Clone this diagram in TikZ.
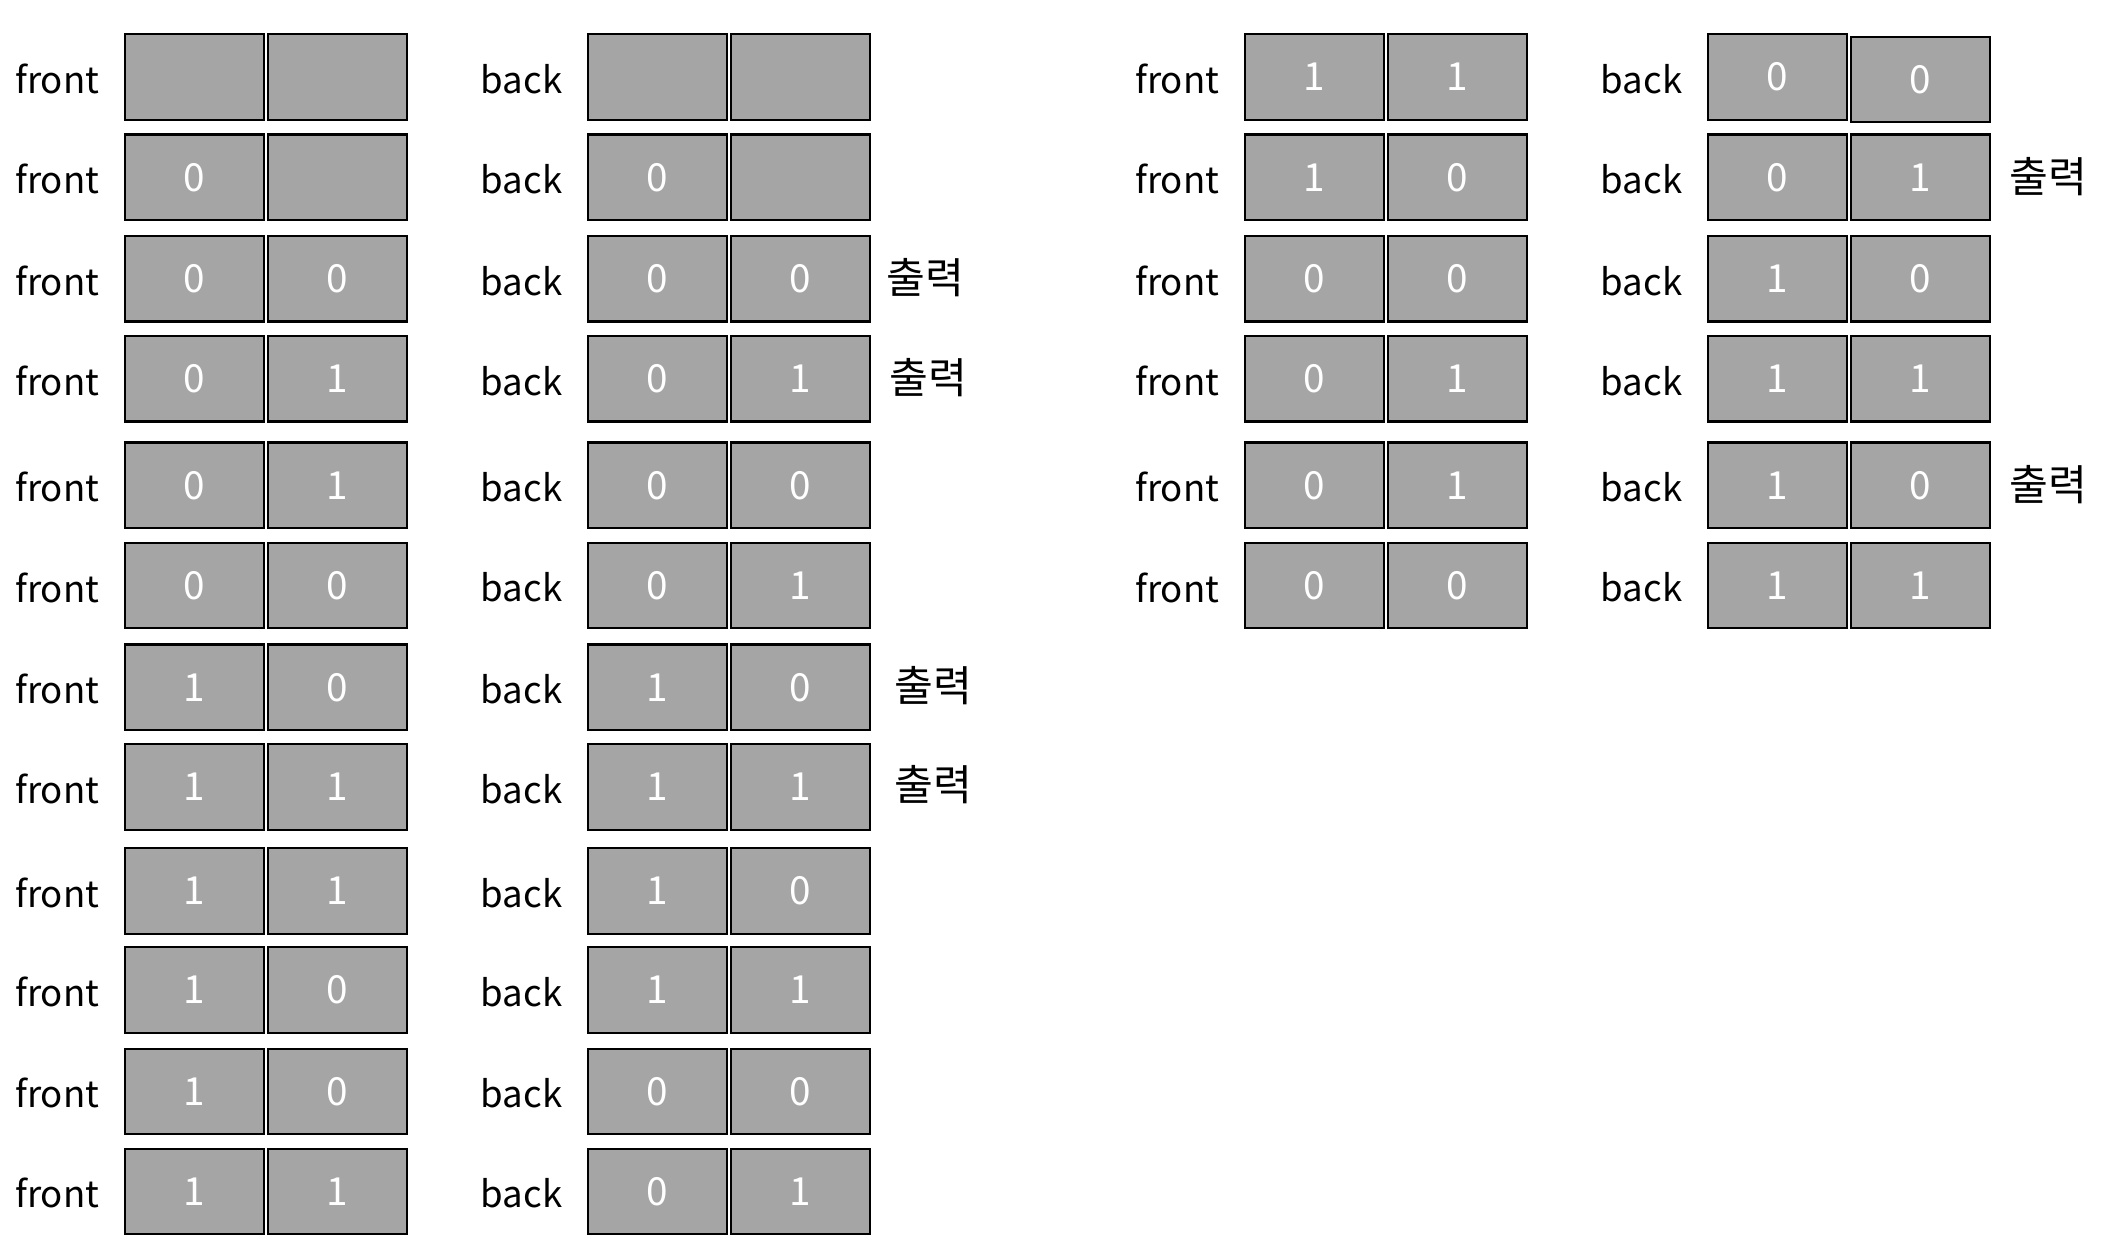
\documentclass[tikz,border=0pt]{standalone}
\usepackage{fontspec}
\setmainfont{Noto Sans CJK KR}
\newfontfamily\korfont{Noto Sans CJK KR}
\definecolor{cellgray}{HTML}{A5A5A5}
\newcommand\lblfont{\fontsize{10.4}{12}\selectfont}
\newcommand\digfont{\fontsize{11}{13}\selectfont}
\newcommand\outfont{\korfont\fontsize{12}{14}\selectfont}
\tikzset{
  cell/.style={draw=black, line width=0.6pt, fill=cellgray, minimum width=1.39cm,
    minimum height=0.855cm, inner sep=0pt, text=white, font=\digfont},
  lbl/.style={font=\lblfont, text=black, inner sep=0pt, anchor=east},
  outlbl/.style={font=\outfont, text=black, inner sep=0pt, anchor=west}
}
\begin{document}
\begin{tikzpicture}[x=0.01cm, y=-0.01cm]
\path[use as bounding box] (0,0) rectangle (2128,1252);
% left group
\foreach \i/\y/\a/\b/\c/\d in {
  1/77/{}/{}/{}/{},
  2/177.25/0/{}/0/{},
  3/278.75/0/0/0/0,
  4/378.75/0/1/0/1,
  5/485.25/0/1/0/0,
  6/585.5/0/0/0/1,
  7/687.3/1/0/1/0,
  8/787/1/1/1/1,
  9/890.85/1/1/1/0,
  10/989.85/1/0/1/1,
  11/1091.35/1/0/0/0,
  12/1191.35/1/1/0/1}{
  \node[cell] (Lfa\i) at (194.5,\y) {\a};
  \node[cell] (Lfb\i) at (337.5,\y) {\b};
  \node[cell] (Lba\i) at (657.5,\y) {\c};
  \node[cell] (Lbb\i) at (800.5,\y) {\d};
  \node[lbl] (Lfl\i) at ([xshift=-0.24cm,yshift=-0.02cm]Lfa\i.west) {front};
  \node[lbl] (Lbl\i) at ([xshift=-0.24cm,yshift=-0.02cm]Lba\i.west) {back};
}
% right group
\foreach \i/\y/\a/\b/\c/\d/\s in {
  1/77/1/1/0/0/2.5,
  2/177.25/1/0/0/1/0,
  3/278.75/0/0/1/0/0,
  4/378.75/0/1/1/1/0,
  5/485.25/0/1/1/0/0,
  6/585.5/0/0/1/1/0}{
  \node[cell] (Rfa\i) at (1314.5,\y) {\a};
  \node[cell] (Rfb\i) at (1457.5,\y) {\b};
  \node[cell] (Rba\i) at (1777.5,\y) {\c};
  \node[cell] (Rbb\i) at (1920.5,\y+\s) {\d};
  \node[lbl] (Rfl\i) at ([xshift=-0.24cm,yshift=-0.02cm]Rfa\i.west) {front};
  \node[lbl] (Rbl\i) at ([xshift=-0.24cm,yshift=-0.02cm]Rba\i.west) {back};
}
% outputs
\node[outlbl] (Lo3) at (886,277.75) {출력};
\node[outlbl] (Lo4) at (889,377.75) {출력};
\node[outlbl] (Lo7) at (894,685.3) {출력};
\node[outlbl] (Lo8) at (894,785) {출력};
\node[outlbl] (Ro2) at (2008.5,176.25) {출력};
\node[outlbl] (Ro5) at (2008.5,484.25) {출력};
\end{tikzpicture}
\end{document}
